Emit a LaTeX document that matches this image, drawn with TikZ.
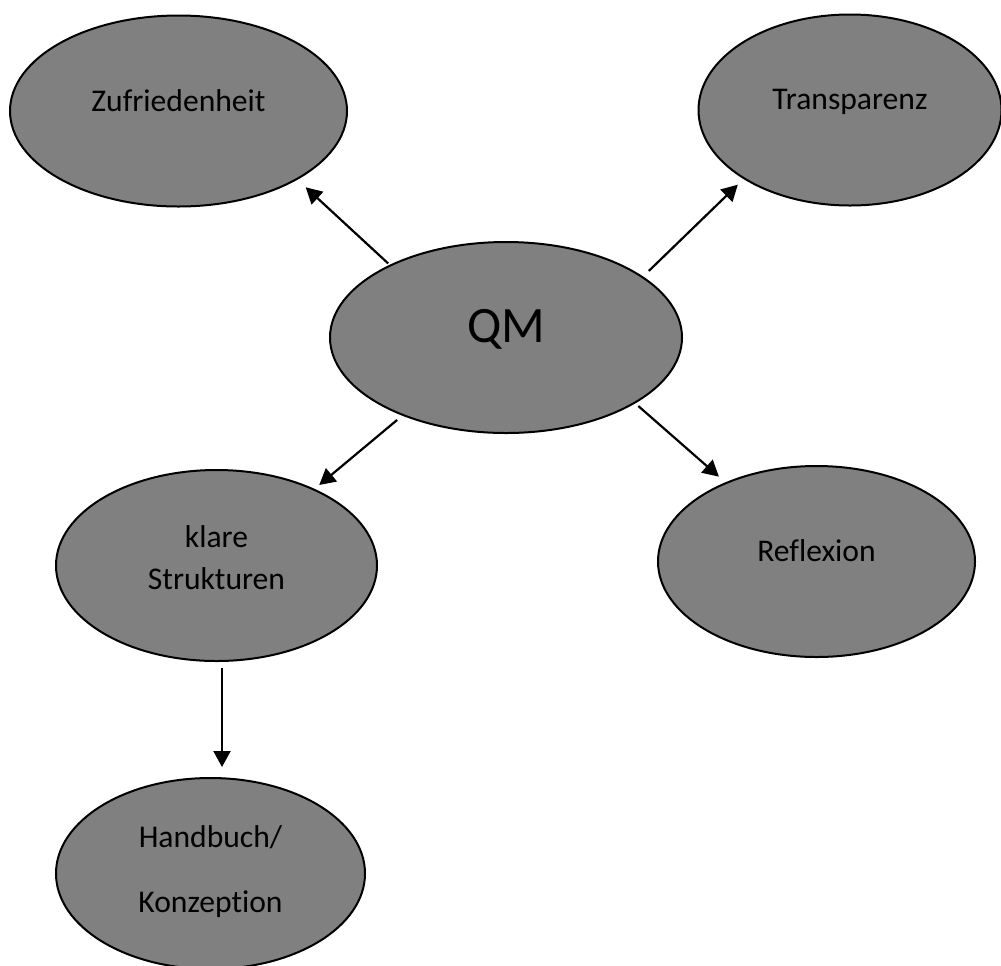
\documentclass[tikz,border=0pt]{standalone}
\usepackage{fontspec}
\setmainfont{Carlito}[Ligatures=NoCommon]
\usepackage{tikz}
\usetikzlibrary{shapes.geometric, arrows.meta, positioning}

\begin{document}
\begin{tikzpicture}[
                x=0.5pt, y=-0.5pt,
                node distance=57.5pt,
                bubble/.style={ellipse, draw=black, line width=1pt, fill=black!50, inner sep=0pt, minimum height=95.5pt},
                lbl/.style={font=\fontsize{15.8}{20.8}\selectfont, align=center, text=black},
                arrow/.style={line width=1.1pt, -{Triangle[length=8pt, width=8.5pt]}, shorten <=2pt, shorten >=4pt}
            ]%
            \path[use as bounding box, fill=white] (0,0) rectangle (1001,965);
            %
            % Zentraler Knoten
            \node[bubble, minimum width=176pt, label={[lbl, font=\fontsize{25.5}{30}\selectfont, yshift=4.1pt]center:QM}] (qm) at (506,337.5) {};
            %
            % Aeussere Knoten
            \node[bubble, minimum width=168.5pt, label={[lbl, yshift=5pt]center:Zufriedenheit}] (zuf) at (178.5,111) {};
            \node[bubble, minimum width=151.5pt, label={[lbl, yshift=4.25pt]center:Transparenz}] (trans) at (850,110) {};
            \node[bubble, minimum width=160.5pt, label={[lbl, yshift=4pt]center:klare\\Strukturen}] (klare) at (216.5,565.5) {};
            \node[bubble, minimum width=158.5pt, label={[lbl, yshift=5.4pt]center:Reflexion}] (refl) at (816.5,561.5) {};
            \node[bubble, minimum width=154.5pt, below=of klare, xshift=-3pt, label={[lbl, yshift=1pt]center:Handbuch/\\[11.7pt]Konzeption}] (hand) {};
            %
            % Verbindungen
            \draw[arrow, shorten <=1pt, shorten >=5.6pt] (qm.148) -- (zuf.-30);
            \draw[arrow, shorten <=4pt, shorten >=4pt] (qm.24) -- (trans.213);
            \draw[arrow, shorten <=3.3pt, shorten >=3pt] (qm.217) -- (klare.38);
            \draw[arrow, shorten <=2pt, shorten >=4.3pt] (qm.-27) -- (refl.139);
            \draw[arrow, shorten <=3pt, shorten >=5pt] ([xshift=2.75pt]klare.south) -- ([xshift=2.75pt]klare.south |- hand.north);
        \end{tikzpicture}
\end{document}
